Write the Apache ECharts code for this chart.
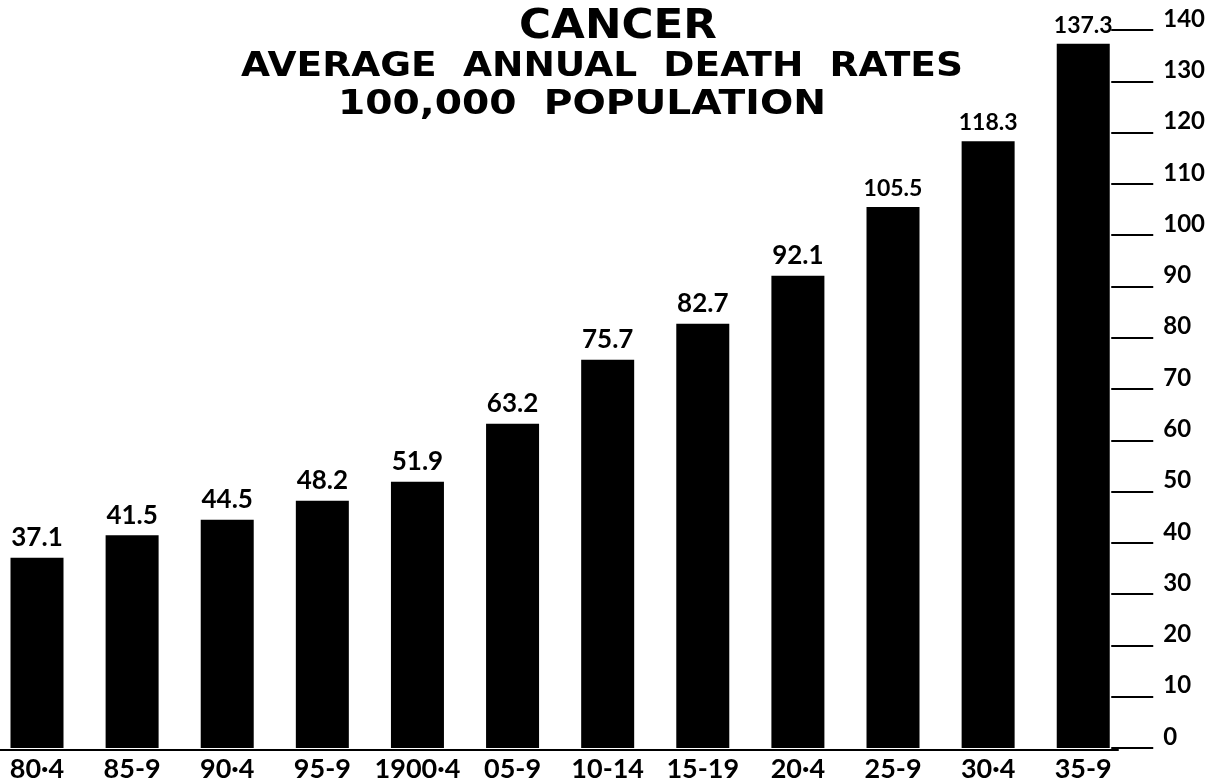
<!DOCTYPE html>
<html><head><meta charset="utf-8">
<script src="https://cdn.jsdelivr.net/npm/echarts@6/dist/echarts.min.js"></script>
<style>html,body{margin:0;padding:0;background:#fff}#c{width:1208px;height:783px}</style>
</head><body><div id="c"></div>
<script>
const categories = ["80·4","85-9","90·4","95-9","1900·4","05-9","10-14","15-19","20·4","25-9","30·4","35-9"];
const deathRates = [37.1,41.5,44.5,48.2,51.9,63.2,75.7,82.7,92.1,105.5,118.3,137.3];
const yTicks = [0,10,20,30,40,50,60,70,80,90,100,110,120,130,140];
const titleLines = ["CANCER","AVERAGE  ANNUAL  DEATH  RATES","100,000  POPULATION"];

const FONT = 'Lato';
const TFONT = '"DejaVu Sans"';
// fit title lines to their widths in the reference
const ctx = document.createElement('canvas').getContext('2d');
function fitScale(text, font, width){ ctx.font = font; return width / ctx.measureText(text).width; }
const tSpecs = [
  {text:titleLines[0], font:'bold 41px '+TFONT, cx:618, cy:27, w:198},
  {text:titleLines[1], font:'bold 34px '+TFONT, cx:602, cy:67, w:722},
  {text:titleLines[2], font:'bold 34px '+TFONT, cx:582, cy:105, w:488}
];
const graphics = tSpecs.map(s => ({
  type:'text', x:s.cx, y:s.cy, scaleX:fitScale(s.text, s.font, s.w), scaleY:1,
  style:{text:s.text, font:s.font, fill:'#000', align:'center', verticalAlign:'middle'}
}));

const barData = deathRates.map((v,i) => i >= 9
  ? {value:v, label:{fontSize:23}}
  : v);

const chart = echarts.init(document.getElementById('c'), null, {renderer:'canvas'});
chart.setOption({
  backgroundColor:'#fff',
  animation:false,
  graphic:graphics,
  grid:[
    {left:37, right:118, top:30, bottom:33},
    {left:0, right:90, top:30, bottom:33}
  ],
  xAxis:[{
    type:'category', data:categories, boundaryGap:false, gridIndex:0,
    axisLine:{show:false},
    axisTick:{show:false},
    axisLabel:{color:'#000', fontFamily:FONT, fontWeight:'bold', fontSize:27, margin:8, interval:0}
  },{
    type:'value', gridIndex:1, min:0, max:1, show:true,
    axisLine:{show:true, lineStyle:{color:'#000', width:2}},
    axisTick:{show:false}, axisLabel:{show:false}, splitLine:{show:false}
  }],
  yAxis:[{
    type:'value', gridIndex:0, position:'right', min:yTicks[0], max:yTicks[yTicks.length-1], interval:10,
    offset:28,
    axisLine:{show:false},
    axisTick:{show:true, length:42, lineStyle:{color:'#000', width:2}},
    splitLine:{show:false},
    axisLabel:{color:'#000', fontFamily:FONT, fontWeight:'bold', fontSize:24, margin:52, verticalAlign:'bottom', lineHeight:22}
  },{
    type:'value', gridIndex:1, show:false, min:0, max:1
  }],
  series:[{
    type:'bar', data:barData, barWidth:53, clip:false, xAxisIndex:0, yAxisIndex:0,
    itemStyle:{color:'#000'},
    label:{show:true, position:'top', distance:7, color:'#000', fontFamily:FONT, fontWeight:'bold', fontSize:26}
  }]
});
</script></body></html>
